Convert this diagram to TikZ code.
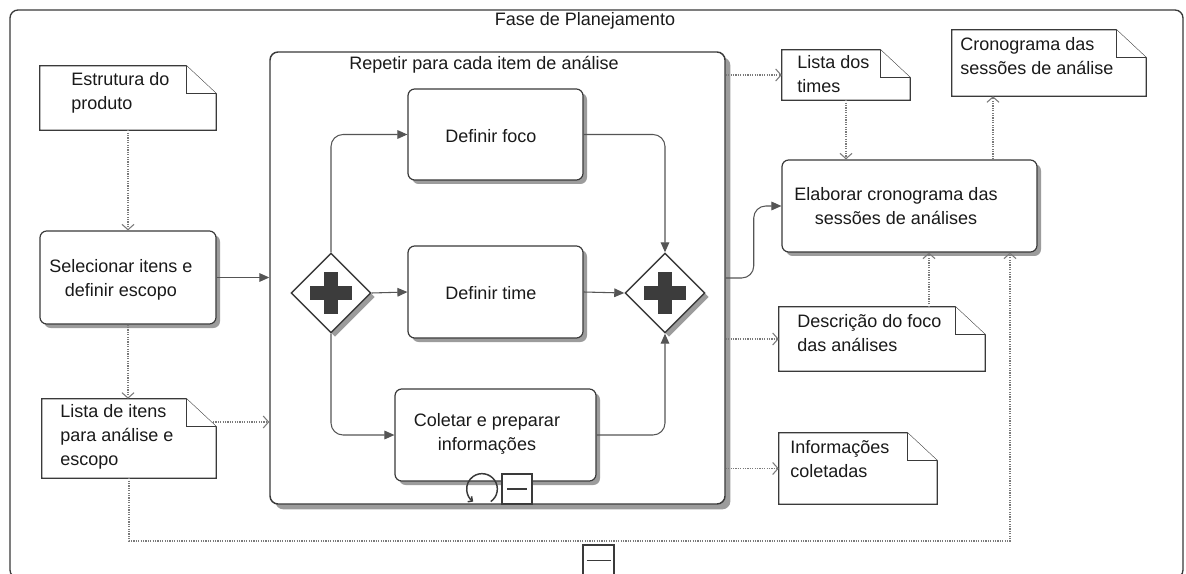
\documentclass[tikz,border=0pt]{standalone}
\usepackage{fontspec}
\setmainfont{Liberation Sans}
\usetikzlibrary{arrows.meta,shapes.geometric,shadows}

\definecolor{edgec}{HTML}{3A3A3A}
\definecolor{flowc}{HTML}{555555}
\definecolor{assocc}{HTML}{7A7A7A}
\definecolor{shadec}{HTML}{9C9C9C}
\definecolor{plusc}{HTML}{3C3C3C}
\definecolor{textc}{HTML}{1A1A1A}

\tikzset{
  every node/.style={text=textc},
  txt/.style={font=\fontsize{13.5}{18}\selectfont, inner sep=0pt},
  doctext/.style={txt, align=left, anchor=north west},
  tasktext/.style={txt, align=center},
  frame/.style={draw=edgec, line width=1pt, rounded corners=6pt, inner sep=0},
  pool/.style={draw=edgec, line width=1.1pt, fill=white, rounded corners=6pt, inner sep=0,
    drop shadow={shadow xshift=4pt, shadow yshift=-4pt, fill=shadec, opacity=1}},
  task/.style={draw=edgec, line width=0.9pt, fill=white, rounded corners=5pt, inner sep=0,
    drop shadow={shadow xshift=3pt, shadow yshift=-3pt, fill=shadec, opacity=1}},
  gateway/.style={draw=edgec, line width=1.1pt, fill=white, shape=diamond, inner sep=0,
    minimum width=60pt, minimum height=60pt,
    drop shadow={shadow xshift=3pt, shadow yshift=-3pt, fill=shadec, opacity=1}},
  docbox/.style={inner sep=0},
  docline/.style={draw=edgec, line width=0.8pt, fill=white},
  marker/.style={draw=edgec, line width=0.8pt, fill=white, inner sep=0},
  flow/.style={draw=flowc, line width=0.8pt, rounded corners=9pt,
    -{Triangle[length=7.5pt,width=6.5pt]}},
  assoc/.style={draw=assocc, line width=0.8pt, dash pattern=on 0.9pt off 0.9pt,
    -{Straight Barb[length=4pt,width=9pt]}},
}

% folded-corner document outline around a named node
\newcommand\docsheet[1]{%
  \draw[docline] (#1.north west) -- ([xshift=-22.5pt]#1.north east)
    -- ([yshift=-21pt]#1.north east) -- (#1.south east) -- (#1.south west) -- cycle;
  \draw[docline] ([xshift=-22.5pt]#1.north east) |- ([yshift=-21pt]#1.north east);}

% parallel gateway plus sign
\newcommand\plusmark[1]{%
  \fill[plusc] ([xshift=-16pt,yshift=-5.6pt]#1.center) rectangle ([xshift=16pt,yshift=5.6pt]#1.center);
  \fill[plusc] ([xshift=-5.6pt,yshift=-16pt]#1.center) rectangle ([xshift=5.6pt,yshift=16pt]#1.center);}

\begin{document}
\begin{tikzpicture}[x=0.75pt,y=-0.75pt]
\useasboundingbox (0,0) rectangle (1186,574);
\fill[white] (0,0) rectangle (1186,574);
\clip (0,0) rectangle (1186,574);

% phase frame
\node[frame, minimum width=879.75pt, minimum height=426pt] (phase) at (596.5,294) {};
\node[txt] (phase-t) at (585,21) {Fase de Planejamento};

% repeated sub-process
\node[pool, minimum width=341.25pt, minimum height=339pt] (loop) at (497.5,278) {};
\node[txt] (loop-t) at (484,65) {Repetir para cada item de análise};

% tasks
\node[task, minimum width=132pt, minimum height=69.75pt] (sel) at (128,277.5) {};
\node[tasktext] (sel-t) at (121,280) {Selecionar itens e\\definir escopo};

\node[task, minimum width=131.25pt, minimum height=68.25pt] (foco) at (495.5,134.5) {};
\node[tasktext] (foco-t) at (491,136) {Definir foco};

\node[task, minimum width=131.25pt, minimum height=69pt] (time) at (495.5,292) {};
\node[tasktext] (time-t) at (491,293) {Definir time};

\node[task, minimum width=150.75pt, minimum height=69pt] (colet) at (495.5,435) {};
\node[tasktext] (colet-t) at (487,434) {Coletar e preparar\\informações};

\node[task, minimum width=191.25pt, minimum height=69pt] (elab) at (909.5,206) {};
\node[tasktext] (elab-t) at (896,206) {Elaborar cronograma das\\sessões de análises};

% gateways
\node[gateway] (g1) at (331,293) {};
\plusmark{g1}
\node[gateway] (g2) at (665,293) {};
\plusmark{g2}

% loop and collapse markers of the sub-process
\coordinate (loopmk) at (482,489);
\draw[edgec, line width=1.1pt, -{Straight Barb[length=2.5pt,width=5pt]}]
  ([shift={(-55:11.5pt)}]loopmk) arc[start angle=-55, end angle=235, radius=11.5pt];
\node[marker, minimum width=22.5pt, minimum height=22.5pt] (mk1) at (517,489) {};
\draw[edgec, line width=1.6pt] ([xshift=-7.5pt]mk1.center) -- ([xshift=7.5pt]mk1.center);

% data objects
\node[docbox, minimum width=132pt, minimum height=48pt] (estr) at (128,98) {};
\docsheet{estr}
\node[doctext] (estr-t) at (71,72) {Estrutura do\\produto};

\node[docbox, minimum width=130.5pt, minimum height=59.25pt] (lista) at (129,438.5) {};
\docsheet{lista}
\node[doctext] (lista-t) at (60,404) {Lista de itens\\para análise e\\escopo};

\node[docbox, minimum width=96pt, minimum height=37.5pt] (times) at (846,75) {};
\docsheet{times}
\node[doctext] (times-t) at (797,55) {Lista dos\\times};

\node[docbox, minimum width=145.5pt, minimum height=49.5pt] (crono) at (1049,63) {};
\docsheet{crono}
\node[doctext] (crono-t) at (960,37) {Cronograma das\\sessões de análise};

\node[docbox, minimum width=154.5pt, minimum height=48pt] (desc) at (882,339) {};
\docsheet{desc}
\node[doctext] (desc-t) at (797,314) {Descrição do foco\\das análises};

\node[docbox, minimum width=118.5pt, minimum height=53.25pt] (info) at (858,468.5) {};
\docsheet{info}
\node[doctext] (info-t) at (790,440) {Informações\\coletadas};

% sequence flows
\draw[flow] (sel.east) -- (sel.east -| loop.west);
\draw[flow] (g1.north) |- (foco.west);
\draw[flow] (g1.east) -- (time.west);
\draw[flow] (g1.south) |- (colet.west);
\draw[flow] (foco.east) -| (g2.north);
\draw[flow] (time.east) -- (g2.west);
\draw[flow] (colet.east) -| (g2.south);
\draw[flow] (loop.east) -- ++(28,0) |- (elab.west);

% data associations
\coordinate (lsrc) at (213,422);
\coordinate (crx) at (993,0);
\coordinate (dcx) at (929,0);
\coordinate (busx) at (1010,541);
\draw[assoc] (estr.south) -- (estr.south |- sel.north);
\draw[assoc] (sel.south) -- (sel.south |- lista.north);
\draw[assoc] (lsrc) -- (lsrc -| loop.west);
\draw[assoc] (times.west -| loop.east) -- (times.west);
\draw[assoc] (times.south) -- (times.south |- elab.north);
\draw[assoc] (crx |- elab.north) -- (crx |- crono.south);
\draw[assoc] (desc.west -| loop.east) -- (desc.west);
\draw[assoc] (dcx |- desc.north) -- (dcx |- elab.south);
\draw[assoc] (info.west -| loop.east) -- (info.west);
\draw[assoc, rounded corners=0pt] (lista.south) -- (lista.south |- busx) -- (busx) -- (busx |- elab.south);

% collapse marker of the phase
\node[marker, minimum width=23.25pt, minimum height=24.75pt] (mk2) at (598.5,561.5) {};
\draw[edgec, line width=1pt] ([xshift=-9pt,yshift=1pt]mk2.center) -- ([xshift=9pt,yshift=1pt]mk2.center);
\end{tikzpicture}
\end{document}
